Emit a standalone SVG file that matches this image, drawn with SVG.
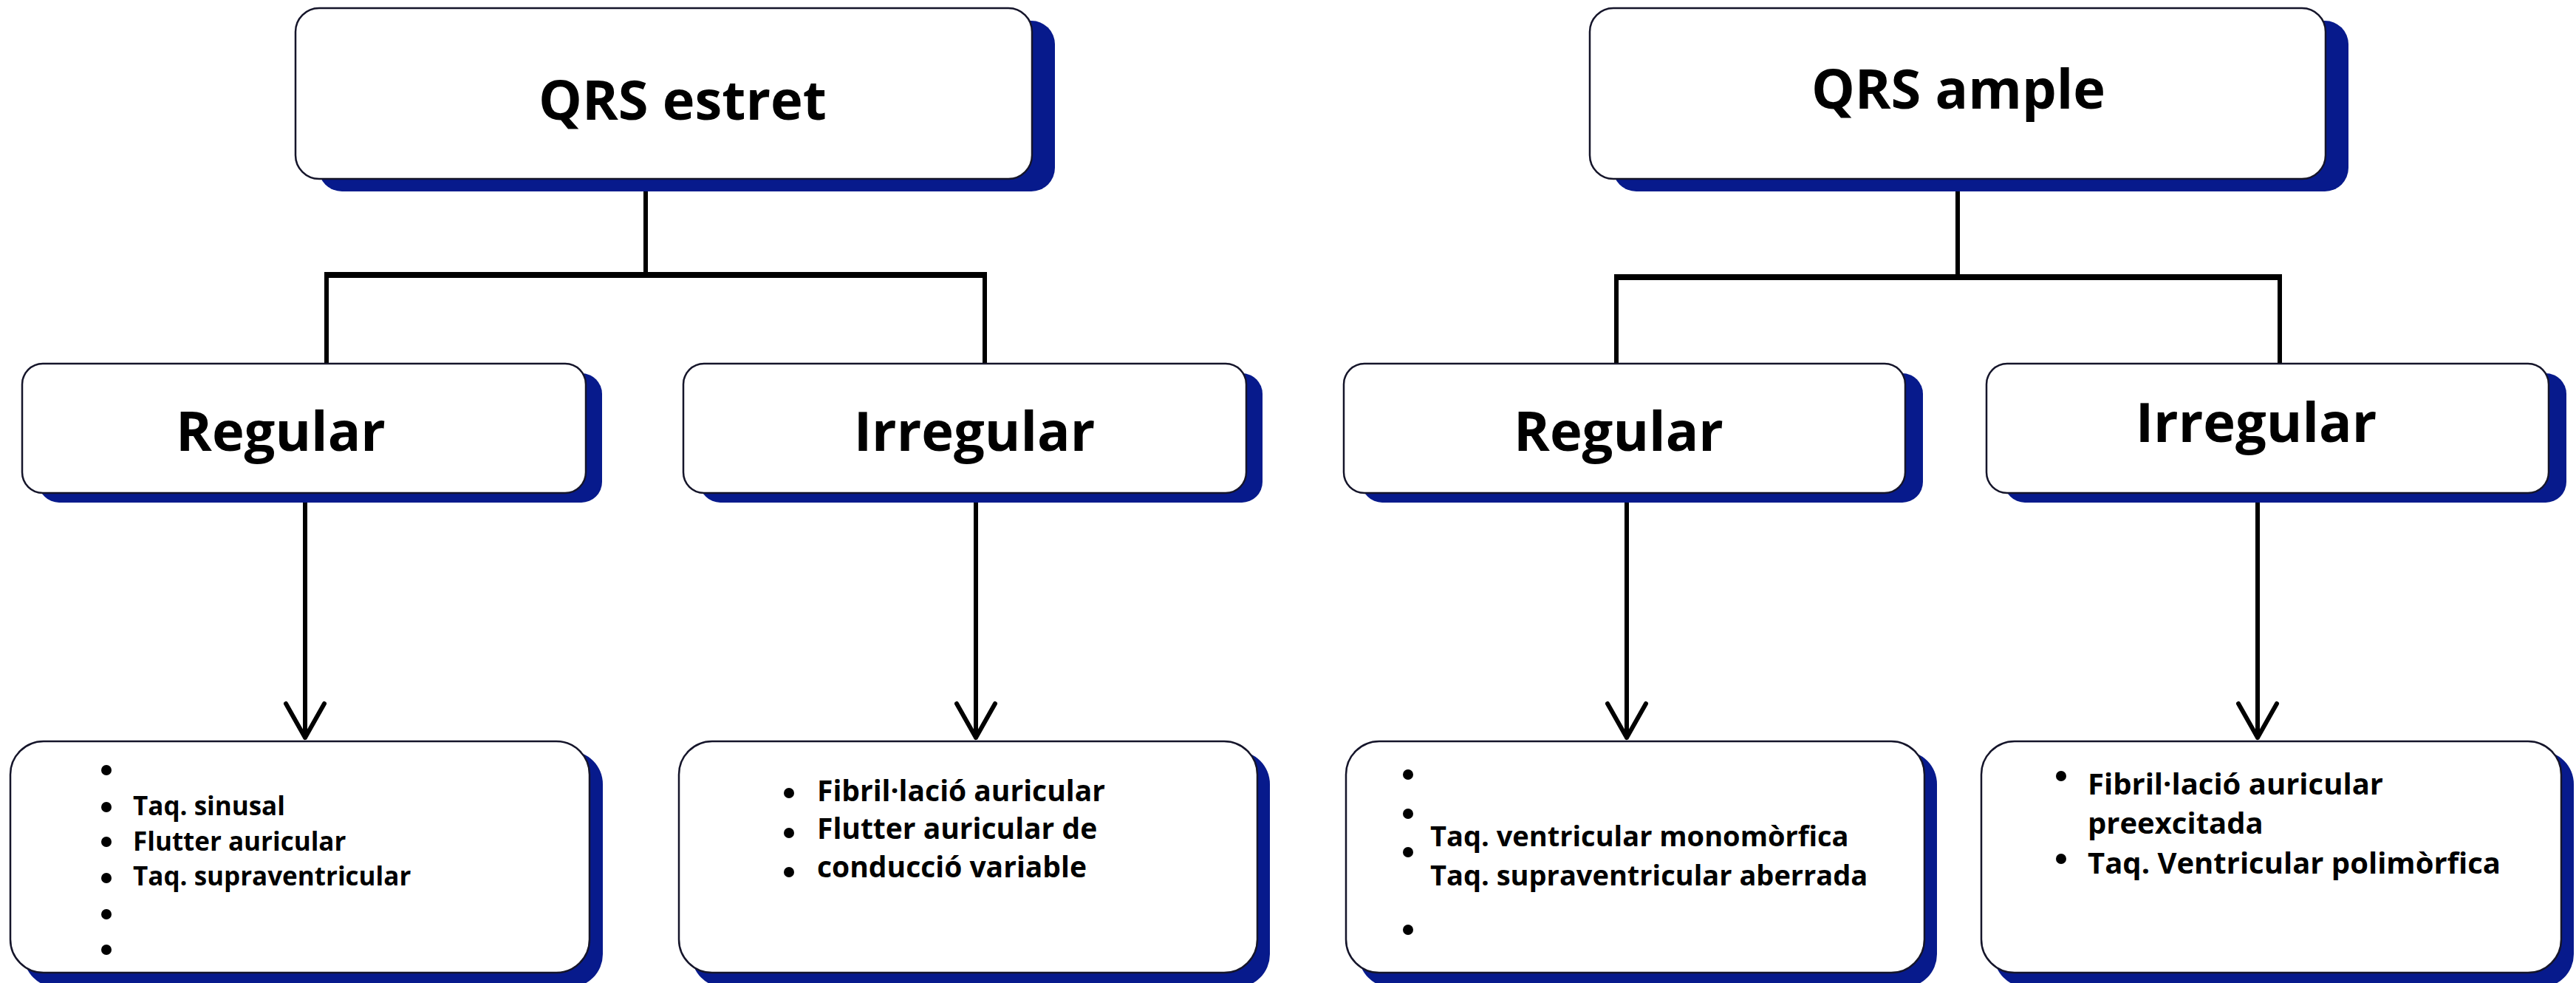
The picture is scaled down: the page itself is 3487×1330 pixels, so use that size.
<svg xmlns="http://www.w3.org/2000/svg" width="3487" height="1330" viewBox="0 0 3487 1330">
  <style>
    .box { fill: #ffffff; stroke: #15152a; stroke-width: 2.5; }
    .shadow { fill: #071a8c; }
    .title { font-family: "Open Sans", "Liberation Sans", sans-serif; font-weight: 700; font-size: 74px; fill: #000; text-anchor: middle; }
    .item { font-family: "Open Sans", "Liberation Sans", sans-serif; font-weight: 700; fill: #000; }
    .dot { fill: #000; }
    .link { fill: none; stroke: #000; stroke-width: 6; }
    .bar { fill: none; stroke: #000; stroke-width: 8; }
    .arrow { fill: none; stroke: #000; stroke-width: 6; stroke-linecap: round; stroke-linejoin: round; }
  </style>

  <rect width="3487" height="1330" fill="#ffffff"/>

  <!-- connectors -->
  <g id="connectors">
    <!-- narrow QRS branch -->
    <line class="link" x1="874" y1="242" x2="874" y2="372"/>
    <line class="bar" x1="439" y1="372" x2="1336" y2="372"/>
    <line class="link" x1="442" y1="372" x2="442" y2="492"/>
    <line class="link" x1="1333" y1="372" x2="1333" y2="492"/>
    <!-- wide QRS branch -->
    <line class="link" x1="2650" y1="242" x2="2650" y2="375"/>
    <line class="bar" x1="2185" y1="375" x2="3089" y2="375"/>
    <line class="link" x1="2188" y1="375" x2="2188" y2="492"/>
    <line class="link" x1="3086" y1="375" x2="3086" y2="492"/>
    <!-- arrows to the lists -->
    <path class="arrow" d="M413 680 V998 M387 952 L413 998 L439 952"/>
    <path class="arrow" d="M1321 680 V998 M1295 952 L1321 998 L1347 952"/>
    <path class="arrow" d="M2202 680 V998 M2176 952 L2202 998 L2228 952"/>
    <path class="arrow" d="M3056 680 V998 M3030 952 L3056 998 L3082 952"/>
  </g>

  <!-- top level -->
  <g id="qrs-estret">
    <rect class="shadow" x="431" y="28" width="997" height="231" rx="32"/>
    <rect class="box" x="400" y="11" width="997" height="231" rx="32"/>
    <text class="title" x="924" y="162">QRS estret</text>
  </g>
  <g id="qrs-ample">
    <rect class="shadow" x="2183" y="28" width="996" height="231" rx="32"/>
    <rect class="box" x="2152" y="11" width="996" height="231" rx="32"/>
    <text class="title" x="2651" y="147">QRS ample</text>
  </g>

  <!-- second level -->
  <g id="estret-regular">
    <rect class="shadow" x="52" y="505" width="763" height="175" rx="28"/>
    <rect class="box" x="30" y="492" width="763" height="175" rx="28"/>
    <text class="title" x="380" y="610">Regular</text>
  </g>
  <g id="estret-irregular">
    <rect class="shadow" x="947" y="505" width="762" height="175" rx="28"/>
    <rect class="box" x="925" y="492" width="762" height="175" rx="28"/>
    <text class="title" x="1319" y="610">Irregular</text>
  </g>
  <g id="ample-regular">
    <rect class="shadow" x="1843" y="505" width="760" height="175" rx="28"/>
    <rect class="box" x="1819" y="492" width="760" height="175" rx="28"/>
    <text class="title" x="2191" y="610">Regular</text>
  </g>
  <g id="ample-irregular">
    <rect class="shadow" x="2713" y="505" width="761" height="175" rx="28"/>
    <rect class="box" x="2689" y="492" width="761" height="175" rx="28"/>
    <text class="title" x="3054" y="598">Irregular</text>
  </g>

  <!-- lists -->
  <g id="list-estret-regular">
    <rect class="shadow" x="32" y="1016" width="784" height="320" rx="45"/>
    <rect class="box" x="14" y="1003" width="784" height="313" rx="45"/>
    <circle class="dot" cx="144" cy="1042" r="7"/>
    <circle class="dot" cx="144" cy="1092" r="7"/>
    <circle class="dot" cx="144" cy="1139" r="7"/>
    <circle class="dot" cx="144" cy="1188" r="7"/>
    <circle class="dot" cx="144" cy="1237" r="7"/>
    <circle class="dot" cx="144" cy="1285" r="7"/>
    <text class="item" font-size="35" x="180" y="1103">Taq. sinusal</text>
    <text class="item" font-size="35" x="180" y="1151">Flutter auricular</text>
    <text class="item" font-size="35" x="180" y="1198">Taq. supraventricular</text>
  </g>
  <g id="list-estret-irregular">
    <rect class="shadow" x="936" y="1016" width="783" height="320" rx="45"/>
    <rect class="box" x="919" y="1003" width="783" height="313" rx="45"/>
    <circle class="dot" cx="1068" cy="1073" r="7"/>
    <circle class="dot" cx="1068" cy="1127" r="7"/>
    <circle class="dot" cx="1068" cy="1180" r="7"/>
    <text class="item" font-size="39" x="1106" y="1084">Fibril·lació auricular</text>
    <text class="item" font-size="39" x="1106" y="1135">Flutter auricular de</text>
    <text class="item" font-size="39" x="1106" y="1187">conducció variable</text>
  </g>
  <g id="list-ample-regular">
    <rect class="shadow" x="1839" y="1016" width="783" height="320" rx="45"/>
    <rect class="box" x="1822" y="1003" width="783" height="313" rx="45"/>
    <circle class="dot" cx="1906" cy="1048" r="7"/>
    <circle class="dot" cx="1906" cy="1101" r="7"/>
    <circle class="dot" cx="1906" cy="1153" r="7"/>
    <circle class="dot" cx="1906" cy="1258" r="7"/>
    <text class="item" font-size="38" x="1936" y="1145">Taq. ventricular monomòrfica</text>
    <text class="item" font-size="38" x="1936" y="1198">Taq. supraventricular aberrada</text>
  </g>
  <g id="list-ample-irregular">
    <rect class="shadow" x="2699" y="1016" width="785" height="320" rx="45"/>
    <rect class="box" x="2682" y="1003" width="785" height="313" rx="45"/>
    <circle class="dot" cx="2790" cy="1050" r="7"/>
    <circle class="dot" cx="2790" cy="1162" r="7"/>
    <text class="item" font-size="40" x="2826" y="1075">Fibril·lació auricular</text>
    <text class="item" font-size="40" x="2826" y="1128">preexcitada</text>
    <text class="item" font-size="40" x="2826" y="1182">Taq. Ventricular polimòrfica</text>
  </g>
</svg>
